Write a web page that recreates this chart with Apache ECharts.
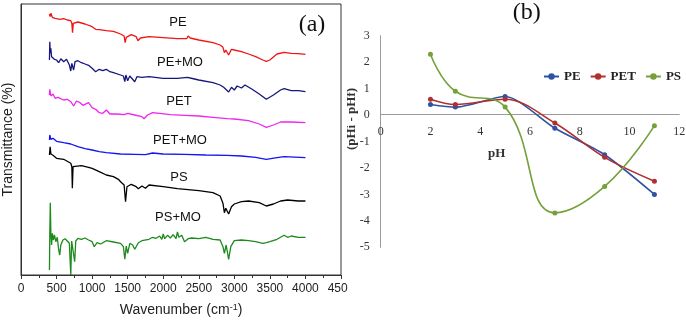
<!DOCTYPE html>
<html>
<head>
<meta charset="utf-8">
<script src="https://cdn.jsdelivr.net/npm/echarts@6/dist/echarts.min.js"></script>
<style>
html,body{margin:0;padding:0;background:#fff;}
#wrap{position:relative;width:686px;height:321px;overflow:hidden;background:#fff;}
#a{position:absolute;left:0;top:0;width:348px;height:321px;}
#b{position:absolute;left:347px;top:0;width:339px;height:321px;}
</style>
</head>
<body>
<div id="wrap"><div id="a"></div><div id="b"></div></div>
<script>
// ---------- Panel (a): FTIR spectra (wavenumber, offset transmittance) ----------
const wnTicks = [0, 500, 1000, 1500, 2000, 2500, 3000, 3500, 4000, 4500];
const specNames = ['PE', 'PE+MO', 'PET', 'PET+MO', 'PS', 'PS+MO'];
const specPE = [[400,261],[410,258.3],[420,261.7],[440,257.7],[460,259.7],[480,256.7],[500,257.7],[550,255.7],[600,256.3],[650,255],[700,254.3],[715,251.7],[725,242.3],[735,251.7],[760,253],[800,253],[900,251],[1000,248.3],[1050,245.7],[1100,245.3],[1200,244.3],[1300,243.7],[1400,241],[1450,239],[1465,232.3],[1480,237.7],[1550,240.3],[1620,238.3],[1645,234.3],[1680,237],[1800,238.3],[2000,237.3],[2200,236.3],[2330,236.3],[2350,239],[2380,237],[2500,235],[2700,232.3],[2800,230],[2840,227.7],[2860,222.3],[2880,225],[2920,220],[2960,225.7],[3000,225],[3100,223.3],[3200,221],[3300,218.3],[3400,215],[3450,213.7],[3500,215],[3600,221],[3700,222.7],[3800,221.7],[3900,221.3],[4000,220.7]];
const specPEMO = [[400,215],[405,233.3],[412,221.7],[420,226.7],[430,218.3],[450,220],[470,215.7],[500,215],[530,212.3],[560,216.3],[600,213.3],[640,215.7],[680,210],[700,204],[715,211.7],[740,205],[760,213.3],[800,214.3],[850,212.3],[900,211],[950,209.7],[1000,206.7],[1050,203.3],[1100,205.7],[1150,204.3],[1200,205.7],[1250,203.3],[1300,202.3],[1400,200],[1440,199],[1460,193.3],[1475,200],[1500,194.3],[1530,199],[1600,193.3],[1630,198.3],[1700,197.7],[1800,198.3],[2000,196.7],[2200,196.7],[2340,197.7],[2360,199.7],[2380,197],[2500,195],[2700,192.3],[2800,190],[2850,187.7],[2920,183],[2960,187.7],[3000,185],[3040,189],[3100,187],[3150,190],[3250,185.7],[3350,181],[3450,175.7],[3550,180],[3650,185],[3700,186.3],[3800,184.3],[3900,184.3],[4000,183.3]];
const specPET = [[400,180],[405,185.7],[420,179],[450,181],[480,176.7],[520,177.7],[600,175],[650,175.7],[700,173.3],[740,169],[780,174],[830,172.3],[870,169.7],[950,172.3],[1000,167.3],[1050,165.7],[1100,162.3],[1150,161.7],[1200,165],[1250,161],[1350,161],[1450,160.3],[1500,161.7],[1600,160],[1700,158.3],[1730,156.3],[1780,160],[1850,162.3],[1950,161.7],[2100,160.3],[2300,159.7],[2500,159],[2700,157.7],[2900,156.3],[3000,156],[3200,154.3],[3350,151],[3450,147.7],[3550,150],[3650,153],[3800,153],[4000,152.3]];
const specPETMO = [[400,135],[405,140],[420,135.7],[450,136.7],[500,133.7],[600,132.3],[700,131],[800,128.3],[900,126.3],[1000,125],[1100,123.3],[1200,122.3],[1400,121],[1600,120.7],[1750,120.3],[1850,122],[2000,121],[2300,120.7],[2600,120],[2900,119.7],[3100,119],[3300,117.7],[3450,115.7],[3600,117.3],[3700,118.3],[4000,117.3]];
const specPS = [[400,120],[410,128.3],[420,121],[450,119.7],[500,116.7],[600,115.7],[700,111.7],[715,108.3],[722,86.7],[732,108.3],[760,110],[850,109.3],[950,107.7],[1000,106.7],[1100,103.3],[1200,100],[1300,98.3],[1370,95.7],[1400,93.3],[1450,90],[1470,73.3],[1490,88.3],[1550,90.7],[1620,88.3],[1650,86.3],[1700,89],[1750,86.7],[1800,90],[2000,88.3],[2200,86.3],[2500,84.3],[2700,82.3],[2800,79],[2840,71.7],[2860,62.3],[2880,66.7],[2920,61],[2960,68.3],[3000,71],[3100,73.3],[3200,74],[3350,72.3],[3450,69],[3550,71],[3650,74],[3750,75],[3900,74],[4000,74]];
const specPSMO = [[400,5],[405,41.7],[412,72.3],[420,41.7],[430,30],[440,41.7],[455,35],[470,40],[490,33.3],[510,37.7],[530,25],[545,20],[560,30],[590,35],[620,36.3],[650,34],[680,31.7],[700,0],[712,34],[740,35],[755,13.3],[770,34],[800,36.7],[850,35.7],[900,37],[950,35],[1000,33.3],[1030,28.3],[1070,32.3],[1120,31],[1200,34.3],[1300,33],[1400,31.7],[1440,28.3],[1460,15.7],[1480,29],[1500,21.7],[1530,31.7],[1570,30],[1600,25.7],[1650,32.3],[1700,34.3],[1800,35.7],[1850,37.7],[1900,36.7],[1950,39],[1980,35.7],[2000,41],[2020,36.3],[2060,39.7],[2100,37],[2140,40.3],[2180,36.3],[2200,43],[2220,37.7],[2260,39.7],[2300,33.3],[2350,36.3],[2400,37],[2500,36.3],[2600,37.7],[2700,35.7],[2800,35],[2840,28.3],[2860,21.7],[2885,30],[2920,15.7],[2950,28.3],[3000,34.3],[3100,35],[3200,34.3],[3300,33.3],[3400,31.7],[3450,32.3],[3500,33.3],[3600,35.7],[3650,37.7],[3700,39.7],[3750,37.7],[3800,39],[3900,37.7],[4000,37.7]];

// ---------- Panel (b): pHi - pHf vs pH ----------
const phValues = [2, 3, 5, 7, 9, 11];
const dPE  = [0.4, 0.3, 0.7, -0.5, -1.5, -3.0];
const dPET = [0.6, 0.4, 0.6, -0.3, -1.6, -2.5];
const dPS  = [2.3, 0.9, 0.3, -3.7, -2.7, -0.4];
const phTicks = [0, 2, 4, 6, 8, 10, 12];
const diffTicks = [-5, -4, -3, -2, -1, 0, 1, 2, 3];

const SANS = 'Liberation Sans, Arial, sans-serif';
const SERIF = 'Liberation Serif, Times New Roman, serif';

const specData = [specPE, specPEMO, specPET, specPETMO, specPS, specPSMO];
const specColors = ['#f01414', '#16167e', '#ee26ee', '#1414f0', '#000000', '#1c8a1c'];
const specLabelPos = [[178,22],[180,62],[179,101],[180,140],[179,177],[178,217]];

const chartA = echarts.init(document.getElementById('a'), null, {renderer: 'canvas'});
chartA.setOption({
  animation: false,
  backgroundColor: '#fff',
  grid: {left: 21, right: 7, top: 4, bottom: 46, outerBoundsMode: 'none', containLabel: false,
         show: true, borderColor: '#333', borderWidth: 1, backgroundColor: 'transparent'},
  xAxis: {
    type: 'value', min: wnTicks[0], max: wnTicks[wnTicks.length - 1], interval: 500,
    name: 'Wavenumber (cm{sup|-1})', nameLocation: 'middle', nameGap: 28,
    nameTextStyle: {fontFamily: SANS, fontSize: 14, color: '#222',
      rich: {sup: {fontFamily: SANS, fontSize: 9, verticalAlign: 'top', color: '#222'}}},
    axisLine: {show: true, lineStyle: {color: '#333', width: 1}},
    axisTick: {show: true, inside: false, length: 4, lineStyle: {color: '#333'}},
    minorTick: {show: true, splitNumber: 2, length: 3, lineStyle: {color: '#333'}},
    axisLabel: {fontFamily: SANS, fontSize: 12, color: '#222', margin: 8, formatter: v => String(v)},
    splitLine: {show: false}
  },
  yAxis: {
    type: 'value', min: 0, max: 271,
    name: 'Transmittance (%)', nameLocation: 'middle', nameGap: 6,
    nameTextStyle: {fontFamily: SANS, fontSize: 14, color: '#222'},
    axisLine: {show: true, lineStyle: {color: '#333', width: 1}},
    axisTick: {show: false}, axisLabel: {show: false}, splitLine: {show: false}
  },
  series: specData.map((d, i) => ({
    name: specNames[i], type: 'line', data: d, showSymbol: false, symbol: 'none',
    lineStyle: {color: specColors[i], width: 1.3}, itemStyle: {color: specColors[i]},
    clip: true
  })),
  graphic: specNames.map((n, i) => ({
    type: 'text', x: specLabelPos[i][0], y: specLabelPos[i][1],
    style: {text: n, font: '13px ' + SANS, fill: '#111', textAlign: 'center', textVerticalAlign: 'middle'}
  })).concat([{
    type: 'text', x: 312, y: 25,
    style: {text: '(a)', font: '24px ' + SERIF, fill: '#111', textAlign: 'center', textVerticalAlign: 'middle'}
  }])
});

const phColors = ['#2f52a3', '#b03030', '#76a03a'];
const chartB = echarts.init(document.getElementById('b'), null, {renderer: 'canvas'});
const mk = (arr) => phValues.map((x, i) => [x, arr[i]]);
chartB.setOption({
  animation: false,
  grid: {left: 33.7, right: 6.7, top: 35.7, bottom: 73.7, outerBoundsMode: 'none', containLabel: false},
  legend: {
    left: 196, top: 70, width: 143, padding: 0, itemWidth: 15, itemHeight: 8, itemGap: 9,
    textStyle: {fontFamily: SERIF, fontSize: 13, fontWeight: 'bold', color: '#222'},
    data: ['PE', 'PET', 'PS']
  },
  xAxis: {
    type: 'value', min: phTicks[0], max: phTicks[phTicks.length - 1], interval: 2,
    offset: -132.8,
    axisLine: {show: true, onZero: false, lineStyle: {color: '#9a9a9a', width: 1}},
    axisTick: {show: false},
    axisLabel: {fontFamily: SERIF, fontSize: 12, color: '#333', margin: 11},
    splitLine: {show: false}
  },
  yAxis: {
    type: 'value', min: diffTicks[0], max: diffTicks[diffTicks.length - 1], interval: 1,
    axisLine: {show: true, lineStyle: {color: '#9a9a9a', width: 1}},
    axisTick: {show: false},
    axisLabel: {fontFamily: SERIF, fontSize: 12, color: '#333', margin: 11},
    splitLine: {show: false}
  },
  series: [
    {name: 'PE', type: 'line', data: mk(dPE), smooth: 0.25, symbol: 'circle', symbolSize: 5,
     lineStyle: {color: phColors[0], width: 1.6}, itemStyle: {color: phColors[0]}},
    {name: 'PET', type: 'line', data: mk(dPET), smooth: 0.35, symbol: 'circle', symbolSize: 5,
     lineStyle: {color: phColors[1], width: 1.6}, itemStyle: {color: phColors[1]}},
    {name: 'PS', type: 'line', data: mk(dPS), smooth: 0.45, symbol: 'circle', symbolSize: 5,
     lineStyle: {color: phColors[2], width: 1.6}, itemStyle: {color: phColors[2]}}
  ],
  graphic: [
    {type: 'text', x: 179.7, y: 13,
     style: {text: '(b)', font: '24px ' + SERIF, fill: '#111', textAlign: 'center', textVerticalAlign: 'middle'}},
    {type: 'text', x: 149.7, y: 154,
     style: {text: 'pH', font: 'bold 13px ' + SERIF, fill: '#333', textAlign: 'center', textVerticalAlign: 'middle'}},
    {type: 'text', x: 5, y: 119, rotation: Math.PI / 2,
     style: {text: '(pHi - pHf)', font: 'bold 13px ' + SERIF, fill: '#333', textAlign: 'center', textVerticalAlign: 'middle'}}
  ]
});
</script>
</body>
</html>
